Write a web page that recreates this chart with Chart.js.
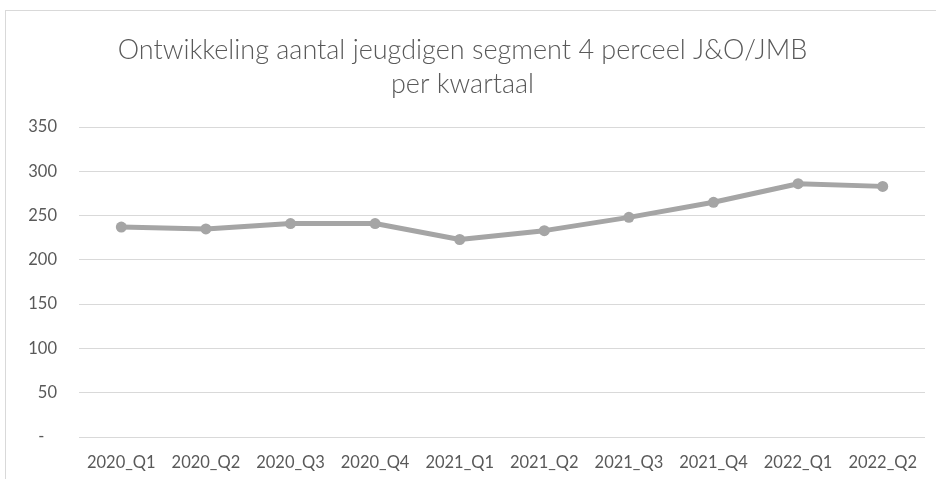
<!DOCTYPE html>
<html>
<head>
<meta charset="utf-8">
<script src="https://cdn.jsdelivr.net/npm/chart.js@4/dist/chart.umd.min.js"></script>
<style>
  html, body { margin: 0; padding: 0; background: #fff; }
  #frame { position: absolute; left: 5px; top: 10px; width: 960px; height: 500px; border: 1px solid #d9d9d9; }
  #wrap { position: absolute; left: 0; top: 0; width: 936px; height: 479px; }
</style>
</head>
<body>
<div id="frame"></div>
<div id="wrap"><canvas id="myChart"></canvas></div>
<script>
// data -
var quarters = ['2020_Q1', '2020_Q2', '2020_Q3', '2020_Q4', '2021_Q1', '2021_Q2', '2021_Q3', '2021_Q4', '2022_Q1', '2022_Q2'];
var jeugdigen = [237, 235, 241, 241, 223, 233, 248, 265, 286, 283];
var yTicks = [0, 50, 100, 150, 200, 250, 300, 350];
var titleLines = ['Ontwikkeling aantal jeugdigen segment 4 perceel J&O/JMB', 'per kwartaal'];
// data |

var grey = '#595959';
var ctx = document.getElementById('myChart');
var myChart = new Chart(ctx, {
  type: 'line',
  data: {
    labels: quarters,
    datasets: [{
      label: 'Aantal jeugdigen',
      data: jeugdigen,
      borderColor: '#a5a5a5',
      backgroundColor: '#a5a5a5',
      borderWidth: 5,
      pointRadius: 5.5,
      pointBorderWidth: 0,
      borderJoinStyle: 'round',
      borderCapStyle: 'round',
      tension: 0
    }]
  },
  options: {
    responsive: true,
    maintainAspectRatio: false,
    animation: false,
    layout: { padding: { left: 0, right: 11, top: 0, bottom: 0 } },
    plugins: {
      legend: { display: false },
      tooltip: { enabled: false },
      title: {
        display: true,
        text: titleLines,
        color: grey,
        font: { family: 'Lato', size: 27, weight: 300, lineHeight: 1.26 },
        padding: { top: 33, bottom: 26 }
      }//end of title
    },
    scales: {
      x: {
        offset: true,
        grid: { display: false, drawTicks: false },
        border: { display: false },
        ticks: { color: grey, font: { family: 'Lato', size: 16.5 }, padding: 16, maxRotation: 0, autoSkip: false },
        afterFit: function (s) { s.height = 42; }
      },
      y: {
        min: 0,
        max: 350,
        afterBuildTicks: function (s) { s.ticks = yTicks.map(function (v) { return { value: v }; }); },
        grid: { color: '#d9d9d9', lineWidth: 1, drawTicks: false },
        border: { display: false },
        ticks: {
          color: grey,
          font: { family: 'Lato', size: 16.5 },
          padding: 22,
          callback: function (v) { return v === 0 ? '-   ' : v; }
        },
        afterFit: function (s) { s.width = 79; }
      }
    }
  }//end of options
});
</script>
</body>
</html>
